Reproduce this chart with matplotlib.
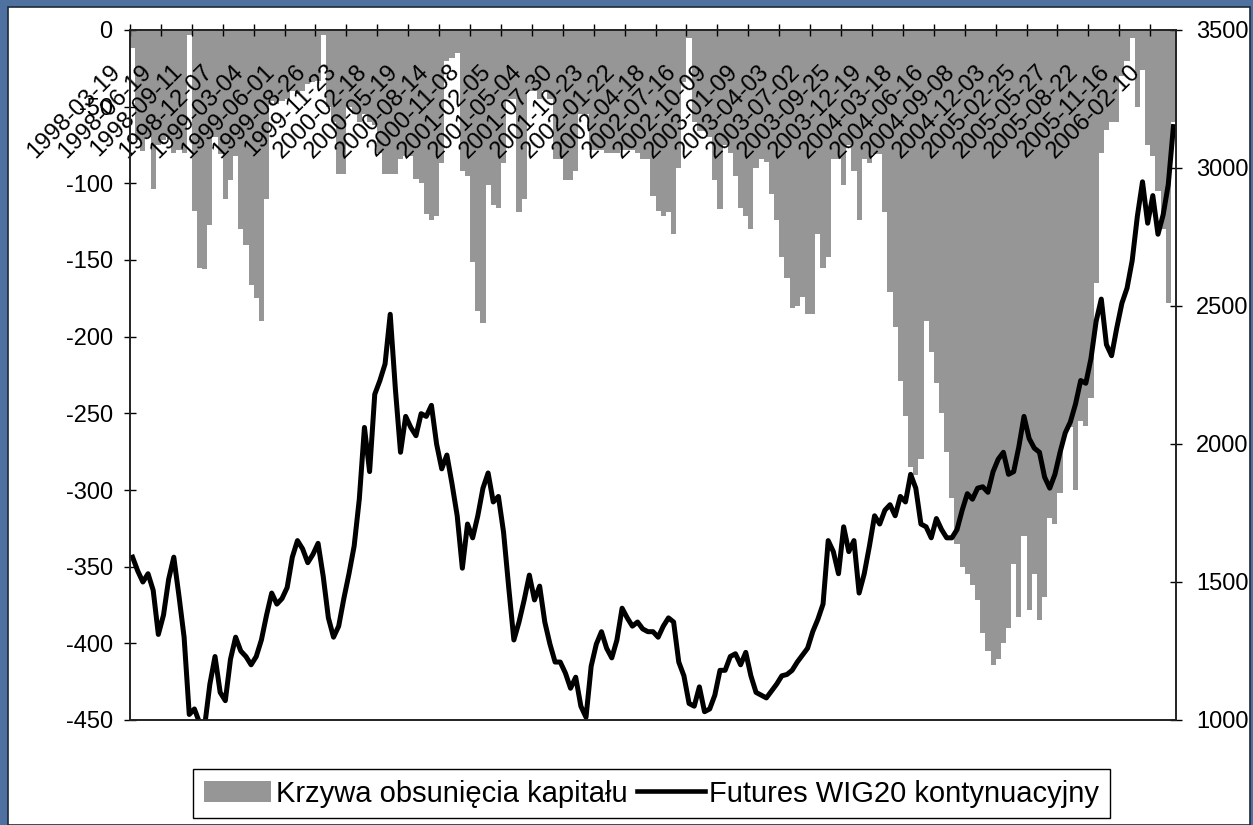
import matplotlib.pyplot as plt
from matplotlib.patches import Patch, Rectangle
from matplotlib.lines import Line2D

plt.rcParams['font.family'] = ['Liberation Sans', 'DejaVu Sans']
plt.rcParams['axes.unicode_minus'] = False

### DANE

daty = ['1998-03-19', '1998-06-19', '1998-09-11', '1998-12-07', '1999-03-04',
        '1999-06-01', '1999-08-26', '1999-11-23', '2000-02-18', '2000-05-19',
        '2000-08-14', '2000-11-08', '2001-02-05', '2001-05-04', '2001-07-30',
        '2001-10-23', '2002-01-22', '2002-04-18', '2002-07-16', '2002-10-09',
        '2003-01-09', '2003-04-03', '2003-07-02', '2003-09-25', '2003-12-19',
        '2004-03-18', '2004-06-16', '2004-09-08', '2004-12-03', '2005-02-25',
        '2005-05-27', '2005-08-22', '2005-11-16', '2006-02-10']

# krzywa obsuniecia kapitalu (lewa os)
obsuniecie = [
    -12, -72, -79, -70, -104, -75, -72, -70, -80, -78,
    -80, -3, -118, -155, -156, -127, -70, -81, -110, -98,
    -82, -130, -140, -166, -175, -190, -110, -46, -48, -46,
    -45, -40, -42, -40, -35, -34, -33, -3, -50, -60,
    -94, -94, -50, -55, -60, -55, -60, -62, -80, -94,
    -94, -94, -84, -82, -82, -97, -100, -120, -124, -121,
    -87, -20, -18, -15, -92, -95, -151, -183, -191, -101,
    -114, -116, -87, -45, -45, -119, -110, -40, -40, -45,
    -40, -45, -84, -84, -98, -98, -92, -55, -55, -78,
    -78, -78, -80, -80, -80, -78, -78, -78, -80, -84,
    -84, -108, -118, -121, -119, -133, -90, -34, -5, -60,
    -66, -66, -70, -98, -117, -75, -80, -95, -116, -121,
    -130, -90, -84, -86, -107, -124, -148, -162, -181, -180,
    -174, -185, -185, -133, -155, -148, -84, -84, -101, -75,
    -92, -124, -84, -87, -81, -81, -119, -171, -194, -229,
    -252, -285, -290, -280, -190, -210, -230, -250, -275, -305,
    -335, -350, -355, -362, -372, -393, -405, -414, -410, -400,
    -390, -348, -383, -330, -378, -355, -385, -370, -318, -322,
    -302, -262, -259, -300, -255, -258, -240, -165, -80, -65,
    -60, -60, -30, -20, -5, -50, -26, -75, -82, -105,
    -130, -178, -60,
]

# Futures WIG20 kontynuacyjny (prawa os)
wig20 = [
    1590, 1540, 1500, 1530, 1470, 1310, 1380, 1510, 1590, 1450,
    1300, 1020, 1040, 990, 980, 1130, 1230, 1100, 1070, 1220,
    1300, 1250, 1230, 1200, 1230, 1290, 1380, 1460, 1420, 1440,
    1480, 1590, 1650, 1620, 1570, 1600, 1640, 1520, 1370, 1300,
    1340, 1440, 1530, 1630, 1800, 2060, 1900, 2180, 2230, 2290,
    2470, 2200, 1970, 2100, 2060, 2030, 2110, 2100, 2140, 2000,
    1910, 1960, 1855, 1740, 1550, 1710, 1660, 1740, 1840, 1895,
    1790, 1810, 1680, 1480, 1290, 1355, 1435, 1525, 1435, 1485,
    1355, 1275, 1210, 1210, 1170, 1115, 1155, 1050, 1010, 1195,
    1275, 1320, 1260, 1225, 1290, 1405, 1370, 1340, 1355, 1330,
    1320, 1320, 1300, 1340, 1370, 1355, 1210, 1160, 1060, 1050,
    1120, 1030, 1040, 1090, 1180, 1180, 1230, 1240, 1200, 1245,
    1160, 1100, 1090, 1080, 1105, 1130, 1160, 1165, 1180, 1210,
    1235, 1260, 1320, 1365, 1420, 1650, 1610, 1530, 1700, 1610,
    1650, 1460, 1530, 1630, 1740, 1710, 1760, 1780, 1740, 1810,
    1790, 1890, 1840, 1710, 1700, 1660, 1730, 1690, 1660, 1660,
    1690, 1760, 1820, 1800, 1840, 1845, 1825, 1900, 1945, 1970,
    1890, 1900, 1990, 2100, 2020, 1985, 1970, 1880, 1840, 1890,
    1970, 2040, 2080, 2145, 2230, 2220, 2310, 2445, 2525, 2360,
    2320, 2420, 2510, 2565, 2665, 2825, 2950, 2800, 2900, 2760,
    2830, 2940, 3150,
]

co_ile = 6  # jedna etykieta daty co 6 punktow

### WYKRES

n = len(wig20)
x = list(range(n))

W, H = 1253, 825
fig = plt.figure(figsize=(W / 100, H / 100), dpi=100)
fig.patch.set_facecolor('#4f71a0')
fig.add_artist(Rectangle((8 / W, 0), 1242 / W, 818 / H, transform=fig.transFigure,
                         facecolor='white', edgecolor='#1c2a3c', lw=1.2, zorder=-5))

ax = fig.add_axes([130 / W, 1 - 720 / H, 1046 / W, 690 / H])
ax.bar(x, obsuniecie, width=1.0, color='#969696', linewidth=0)
ax.set_xlim(-0.5, n - 0.5)
ax.set_ylim(-450, 0)
ax.set_yticks(range(-450, 1, 50))
ax.xaxis.tick_top()
ax.set_xticks([co_ile * k - 0.5 for k in range(len(daty))])
ax.tick_params(axis='x', top=True, bottom=False, labeltop=False, labelbottom=False,
               direction='inout', length=9, width=1)
ax.tick_params(axis='y', direction='inout', length=9, width=1, labelsize=17, pad=8)

for k, d in enumerate(daty):
    ax.annotate(d, xy=(co_ile * k - 0.5, 1), xycoords=('data', 'axes fraction'),
                xytext=(-9.5, -27.5), textcoords='offset points', rotation=45,
                rotation_mode='anchor', ha='right', va='center', fontsize=17.2,
                zorder=5)

ax2 = ax.twinx()
ax2.plot(x, wig20, color='black', lw=3.6, solid_joinstyle='round')
ax2.set_ylim(1000, 3500)
ax2.set_yticks(range(1000, 3501, 500))
ax2.tick_params(direction='inout', length=9, width=1, labelsize=17, pad=10)

for a in (ax, ax2):
    for s in a.spines.values():
        s.set_linewidth(1.2)
        s.set_color('#222222')

uchwyty = [Patch(facecolor='#969696', edgecolor='none'),
           Line2D([], [], color='black', lw=3.3)]
leg = fig.legend(uchwyty, ['Krzywa obsunięcia kapitału', 'Futures WIG20 kontynuacyjny'],
                 loc='center', bbox_to_anchor=(651.5 / W, 1 - 793.5 / H), ncol=2,
                 fontsize=21, frameon=True, fancybox=False, edgecolor='black',
                 framealpha=1, borderpad=0.35, handlelength=2.3, handleheight=0.72,
                 handletextpad=0.17, columnspacing=0.35)
leg.get_frame().set_linewidth(1.0)

fig.savefig('out.png', dpi=100, facecolor=fig.get_facecolor())
